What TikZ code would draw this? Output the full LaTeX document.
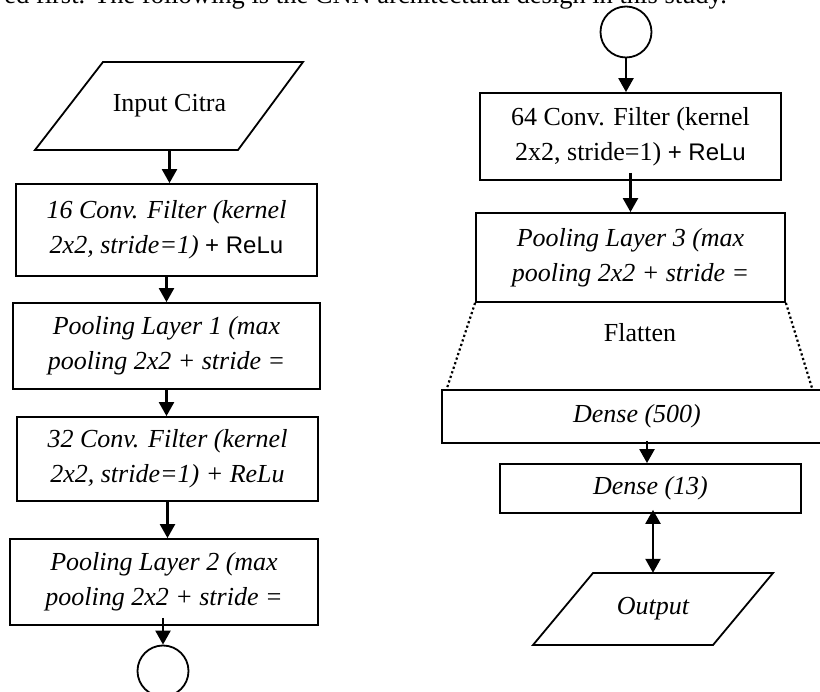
\documentclass[tikz,border=0pt]{standalone}
\usepackage{fontspec}
\setmainfont{Liberation Serif}
\newfontfamily\relufont{Liberation Sans}
\usetikzlibrary{arrows.meta}
\tikzset{layer/.style={draw, line width=1.8pt, inner sep=0pt, align=center,
        font=\fontsize{26}{35}\selectfont},
    io/.style={inner sep=0pt, minimum height=#1, font=\fontsize{26}{35}\selectfont},
    conn/.style={draw, circle, line width=1.8pt, minimum size=51pt, inner sep=0pt},
    flow/.style={-{Triangle[width=15pt,length=14pt]}, line width=2.4pt},
    twoway/.style={{Triangle[width=15pt,length=14pt]}-{Triangle[width=15pt,length=14pt]}, line width=2.4pt},
    flatline/.style={line width=2.2pt, dash pattern=on 2.2pt off 2.6pt}
}
\newcommand{\relu}{{\relufont\fontsize{24}{35}\selectfont + ReLu}}

\begin{document}
\begin{tikzpicture}[x=1pt,y=-1pt]
      \useasboundingbox (0,0) rectangle (820,692);
      \clip (0,0) rectangle (820,692);
      \node[anchor=base east, inner sep=0pt, font=\fontsize{26.5}{30}\selectfont] (Txt) at (727,4)
        {ed first. The following is the CNN architectural design in this study.};

      \node[io=88pt] (In) at (169.5,106) {Input Citra};
      \draw[line width=1.8pt, line join=miter] (103,62) -- (303,62) -- (238,150) -- (35,150) -- cycle;
      \node[layer, minimum width=301pt, minimum height=92pt] (Conv1) at (166.5,230)
        {\textit{16 Conv. Filter (kernel}\\\textit{2x2, stride=1)} \relu};
      \node[layer, minimum width=307pt, minimum height=86pt] (Pool1) at (166.5,346)
        {\textit{Pooling Layer 1 (max}\\\textit{pooling 2x2 + stride =}};
      \node[layer, minimum width=301pt, minimum height=84pt] (Conv2) at (167.5,459)
        {\textit{32 Conv. Filter (kernel}\\\textit{2x2, stride=1) + ReLu}};
      \node[layer, minimum width=308pt, minimum height=86pt] (Pool2) at (164,582)
        {\textit{Pooling Layer 2 (max}\\\textit{pooling 2x2 + stride =}};
      \node[conn] (ConA) at (163,671) {};
      \draw[flow] (In.south) -- (In.south |- Conv1.north);
      \draw[flow] (Conv1.south) -- (Conv1.south |- Pool1.north);
      \draw[flow] (Pool1.south) -- (Pool1.south |- Conv2.north);
      \draw[flow] (Conv2.south) -- (Conv2.south |- Pool2.north);
      \draw[flow] ([yshift=8pt]Pool2.south -| ConA.north) -- (ConA.north);

      \node[conn] (ConB) at (626,32) {};
      \node[layer, minimum width=301pt, minimum height=87pt] (Conv3) at (630.5,136.5)
        {64 Conv. Filter (kernel\\2x2, stride=1) \relu};
      \node[layer, minimum width=309pt, minimum height=89pt] (Pool3) at (630.5,257.5)
        {\textit{Pooling Layer 3 (max}\\\textit{pooling 2x2 + stride =}};
      \node[io=20pt] (Flat) at (640,333) {Flatten};
      \coordinate (FL) at (447,388);
      \coordinate (FR) at (812,388);
      \node[layer, minimum width=390pt, minimum height=53pt] (Dense1) at (637,416.5)
        {\textit{Dense (500)}};
      \node[layer, minimum width=301pt, minimum height=49pt] (Dense2) at (650.5,488.5)
        {\textit{Dense (13)}};
      \node[io=72pt, font=\fontsize{26}{35}\selectfont\itshape] (Out) at (653,609) {Output};
      \draw[line width=1.8pt, line join=miter] (593,573) -- (773,573) -- (713,645) -- (533,645) -- cycle;
      \draw[flow] (ConB.south) -- (ConB.south |- Conv3.north);
      \draw[flow] ([yshift=8pt]Conv3.south) -- (Conv3.south |- Pool3.north);
      \draw[flatline] (Pool3.south west) -- (FL);
      \draw[flatline] (Pool3.south east) -- (FR);
      \draw[flow] ([xshift=10pt,yshift=3pt]Dense1.south) -- ([xshift=-3.5pt]Dense2.north);
      \draw[twoway] ([xshift=2.5pt,yshift=4pt]Dense2.south) -- (Out.north);
    \end{tikzpicture}
\end{document}
